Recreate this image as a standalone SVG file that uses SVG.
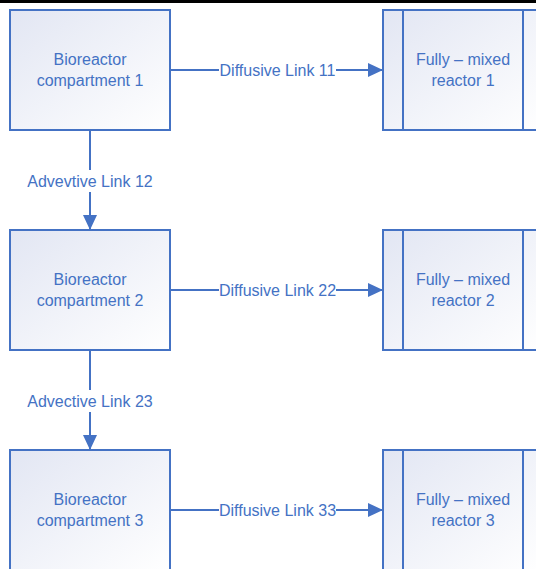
<svg xmlns="http://www.w3.org/2000/svg" width="536" height="569" viewBox="0 0 536 569">
<defs>
<linearGradient id="g" x1="0" y1="0" x2="1" y2="1">
<stop offset="0" stop-color="#e2e6f3"/>
<stop offset="1" stop-color="#ffffff"/>
</linearGradient>
<marker id="arr" markerWidth="15" markerHeight="14" refX="15" refY="7" orient="auto" markerUnits="userSpaceOnUse">
<path d="M0,0 L15,7 L0,14 Z" fill="#4472C4"/>
</marker>
<style>
.box{fill:url(#g);stroke:#4472C4;stroke-width:2}
.ln{stroke:#4472C4;stroke-width:2;fill:none}
.t{font-family:"Liberation Sans",Arial,sans-serif;font-size:16px;fill:#4472C4;text-anchor:middle}
.bg{fill:#ffffff}
</style>
</defs>
<rect x="0" y="0" width="536" height="569" fill="#ffffff"/>
<rect x="0" y="0" width="536" height="3" fill="#000000"/>

<g id="connectors">
<line class="ln" x1="170" y1="70" x2="383" y2="70" marker-end="url(#arr)"/>
<line class="ln" x1="170" y1="290" x2="383" y2="290" marker-end="url(#arr)"/>
<line class="ln" x1="170" y1="510" x2="383" y2="510" marker-end="url(#arr)"/>
<line class="ln" x1="90" y1="130" x2="90" y2="230" marker-end="url(#arr)"/>
<line class="ln" x1="90" y1="350" x2="90" y2="450" marker-end="url(#arr)"/>
<rect class="bg" x="219" y="61" width="117" height="19"/>
<text class="t" x="277.5" y="76">Diffusive Link 11</text>
<rect class="bg" x="219" y="281" width="117" height="19"/>
<text class="t" x="277.5" y="296">Diffusive Link 22</text>
<rect class="bg" x="219" y="501" width="117" height="19"/>
<text class="t" x="277.5" y="516">Diffusive Link 33</text>
<rect class="bg" x="24" y="170" width="132" height="22"/>
<text class="t" x="90" y="187">Advevtive Link 12</text>
<rect class="bg" x="24" y="390" width="132" height="22"/>
<text class="t" x="90" y="407">Advective Link 23</text>
</g>

<g id="bio1">
<rect class="box" x="10" y="10" width="160" height="120"/>
<text class="t" x="90" y="65">Bioreactor</text>
<text class="t" x="90" y="86">compartment 1</text>
</g>
<g id="bio2">
<rect class="box" x="10" y="230" width="160" height="120"/>
<text class="t" x="90" y="285">Bioreactor</text>
<text class="t" x="90" y="306">compartment 2</text>
</g>
<g id="bio3">
<rect class="box" x="10" y="450" width="160" height="120"/>
<text class="t" x="90" y="505">Bioreactor</text>
<text class="t" x="90" y="526">compartment 3</text>
</g>

<g id="reactor1">
<rect class="box" x="383" y="10" width="160" height="120"/>
<line class="ln" x1="403" y1="10" x2="403" y2="130"/>
<line class="ln" x1="523" y1="10" x2="523" y2="130"/>
<text class="t" x="463" y="65">Fully – mixed</text>
<text class="t" x="463" y="86">reactor 1</text>
</g>
<g id="reactor2">
<rect class="box" x="383" y="230" width="160" height="120"/>
<line class="ln" x1="403" y1="230" x2="403" y2="350"/>
<line class="ln" x1="523" y1="230" x2="523" y2="350"/>
<text class="t" x="463" y="285">Fully – mixed</text>
<text class="t" x="463" y="306">reactor 2</text>
</g>
<g id="reactor3">
<rect class="box" x="383" y="450" width="160" height="120"/>
<line class="ln" x1="403" y1="450" x2="403" y2="570"/>
<line class="ln" x1="523" y1="450" x2="523" y2="570"/>
<text class="t" x="463" y="505">Fully – mixed</text>
<text class="t" x="463" y="526">reactor 3</text>
</g>
</svg>
